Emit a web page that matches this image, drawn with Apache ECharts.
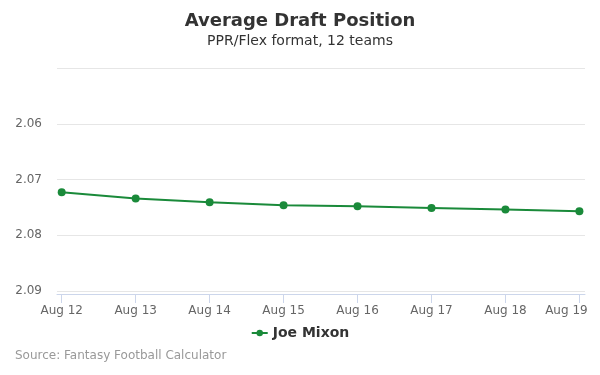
<!DOCTYPE html>
<html>
<head>
<meta charset="utf-8">
<script src="https://cdn.jsdelivr.net/npm/echarts@6/dist/echarts.min.js"></script>
<style>html,body{margin:0;padding:0;background:#fff}#c{width:600px;height:375px}</style>
</head>
<body>
<div id="c"></div>
<script>
var categories = ["Aug 12","Aug 13","Aug 14","Aug 15","Aug 16","Aug 17","Aug 18","Aug 19"];
var adpValues = [2.0723, 2.0734, 2.0741, 2.0746, 2.0748, 2.0751, 2.0754, 2.0757];
var yTicks = [2.06, 2.07, 2.08, 2.09];
var seriesName = "Joe Mixon";

var FONT = "DejaVu Sans";
var idx = categories.map(function(_, i){ return i; });
var chart = echarts.init(document.getElementById('c'), null, {renderer: 'canvas'});
chart.setOption({
  animation: false,
  backgroundColor: '#fff',
  title: {
    text: 'Average Draft Position',
    subtext: 'PPR/Flex format, 12 teams',
    left: 'center', top: 7, itemGap: 4,
    textStyle: {fontFamily: FONT, fontSize: 18, fontWeight: 'bold', color: '#333'},
    subtextStyle: {fontFamily: FONT, fontSize: 14, color: '#333'}
  },
  graphic: [{
    type: 'text', left: 15, top: 350,
    style: {text: 'Source: Fantasy Football Calculator', fontFamily: FONT, fontSize: 12, fill: '#999'}
  }],
  legend: {
    bottom: 30, left: 'center', itemWidth: 16, itemHeight: 8, itemGap: 6,
    textStyle: {fontFamily: FONT, fontSize: 14, fontWeight: 'bold', color: '#333'},
    data: [seriesName]
  },
  grid: {left: 57, right: 15, top: 68, bottom: 84, containLabel: false, outerBoundsMode: 'none'},
  xAxis: {
    type: 'value', min: -0.0636, max: 7.0757, offset: 3,
    splitLine: {show: false},
    axisLine: {show: true, lineStyle: {color: '#ccd6eb'}},
    axisTick: {show: true, length: 9, lineStyle: {color: '#ccd6eb'}, customValues: idx},
    axisLabel: {customValues: idx, color: '#666', fontFamily: FONT, fontSize: 12, margin: 11,
      hideOverlap: false,
      rich: {last: {color: '#666', fontFamily: FONT, fontSize: 12, padding: [0, 26, 0, 0]}},
      formatter: function(v){
        var i = Math.round(v);
        return i === categories.length - 1 ? '{last|' + categories[i] + '}' : categories[i];
      }}
  },
  yAxis: {
    type: 'value', inverse: true, min: 2.05, max: 2.09, interval: 0.01,
    axisLine: {show: false}, axisTick: {show: false},
    splitLine: {lineStyle: {color: '#e6e6e6'}},
    axisLabel: {color: '#666', fontFamily: FONT, fontSize: 12, margin: 15,
      formatter: function(v){
        for (var i = 0; i < yTicks.length; i++) if (Math.abs(v - yTicks[i]) < 1e-6) return yTicks[i].toFixed(2);
        return '';
      }}
  },
  series: [{
    name: seriesName, type: 'line',
    data: adpValues.map(function(v, i){ return [i, v]; }),
    symbol: 'circle', symbolSize: 8,
    lineStyle: {color: '#1a8a3a', width: 2},
    itemStyle: {color: '#1a8a3a'}
  }]
});
</script>
</body>
</html>
